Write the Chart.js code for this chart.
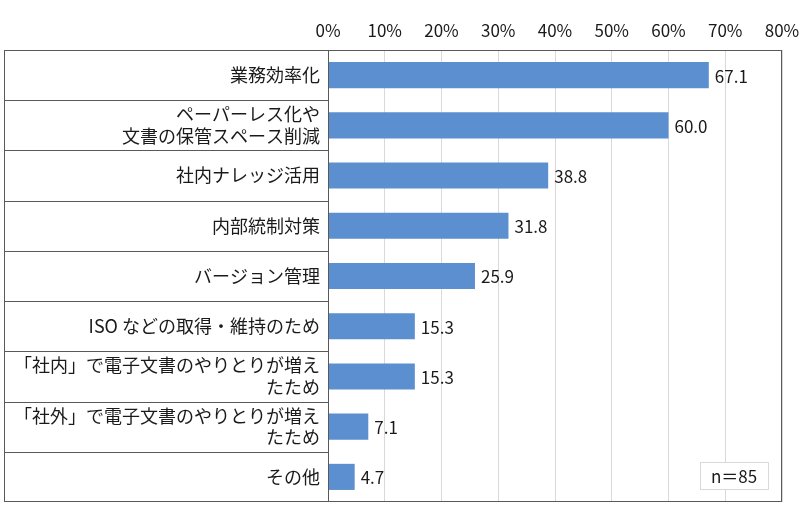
<!DOCTYPE html>
<html lang="ja">
<head>
<meta charset="utf-8">
<title>導入目的</title>
<script src="https://cdn.jsdelivr.net/npm/chart.js@4.4.1/dist/chart.umd.min.js"></script>
<style>
  body { margin: 0; background: #fff; }
  #wrap { width: 800px; height: 522px; }
</style>
</head>
<body>
<div id="wrap"><canvas id="grafico" width="800" height="522"></canvas></div>
<script>
const categorias = [
    '業務効率化',
    ['ペーパーレス化や', '文書の保管スペース削減'],
    '社内ナレッジ活用',
    '内部統制対策',
    'バージョン管理',
    'ISO などの取得・維持のため',
    ['「社内」で電子文書のやりとりが増え', 'たため'],
    ['「社外」で電子文書のやりとりが増え', 'たため'],
    'その他'
];
const valores = [67.1, 60.0, 38.8, 31.8, 25.9, 15.3, 15.3, 7.1, 4.7];
const eixoMax = 80;
const eixoPasso = 10;
const notaAmostra = 'n＝85';

const fonte = '"Noto Sans CJK JP", "Noto Sans", sans-serif';
const corTexto = '#1a1a1a';
const corBorda = '#595959';

// moldura da tabela de rótulos + valores nas barras + caixa n=85
const molduraPlugin = {
    id: 'moldura',
    afterDraw(chart) {
        const { ctx, chartArea: a, scales } = chart;
        const esquerda = 4;
        ctx.save();
        ctx.strokeStyle = corBorda;
        ctx.lineWidth = 1;
        ctx.strokeRect(esquerda + 0.5, a.top + 0.5, a.right - esquerda - 1, a.bottom - a.top - 1);
        ctx.beginPath();
        ctx.moveTo(a.left + 0.5, a.top);
        ctx.lineTo(a.left + 0.5, a.bottom);
        const y = scales.y;
        for (let i = 1; i < categorias.length; i++) {
            const linha = Math.round((y.getPixelForValue(i - 1) + y.getPixelForValue(i)) / 2) + 0.5;
            ctx.moveTo(esquerda, linha);
            ctx.lineTo(a.left, linha);
        }
        ctx.stroke();

        // valores
        ctx.fillStyle = corTexto;
        ctx.font = '17px ' + fonte;
        ctx.textAlign = 'left';
        ctx.textBaseline = 'middle';
        chart.getDatasetMeta(0).data.forEach((barra, i) => {
            ctx.fillText(valores[i].toFixed(1), barra.x + 6, barra.y + 1);
        });

        // caixa n=85
        const bx = a.right - 82, by = a.bottom - 40, bw = 68, bh = 27;
        ctx.fillStyle = '#fff';
        ctx.fillRect(bx, by, bw, bh);
        ctx.strokeStyle = '#d9d9d9';
        ctx.strokeRect(bx + 0.5, by + 0.5, bw, bh);
        ctx.fillStyle = corTexto;
        ctx.textAlign = 'center';
        ctx.fillText(notaAmostra, bx + bw / 2, by + bh / 2 + 1);
        ctx.restore();
    }
};

new Chart(document.getElementById('grafico'), {
    type: 'bar',
    data: {
        labels: categorias,
        datasets: [{
            data: valores,
            backgroundColor: '#5b8fcf',
            borderWidth: 0,
            categoryPercentage: 1,
            barPercentage: 0.52
        }]
    },
    options: {
        indexAxis: 'y',
        responsive: false,
        animation: false,
        layout: { padding: { left: 4, right: 18, top: 0, bottom: 20 } },
        plugins: {
            legend: { display: false },
            tooltip: { enabled: false }
        },
        scales: {
            x: {
                position: 'top',
                min: 0,
                max: eixoMax,
                ticks: {
                    stepSize: eixoPasso,
                    callback: v => v + '%',
                    color: corTexto,
                    font: { family: fonte, size: 17 },
                    padding: 9
                },
                grid: { color: '#d9d9d9', drawTicks: false },
                border: { display: false },
                afterFit(scale) {
                    scale.height = 50;
                    scale.paddingLeft = 0;
                    scale.paddingRight = 0;
                }
            },
            y: {
                ticks: {
                    color: corTexto,
                    font: { family: fonte, size: 18, lineHeight: 1.2 },
                    padding: 8
                },
                grid: { display: false, drawTicks: false },
                border: { display: false },
                afterFit(scale) { scale.width = 324; }
            }
        }
    },
    plugins: [molduraPlugin]
});
</script>
</body>
</html>
